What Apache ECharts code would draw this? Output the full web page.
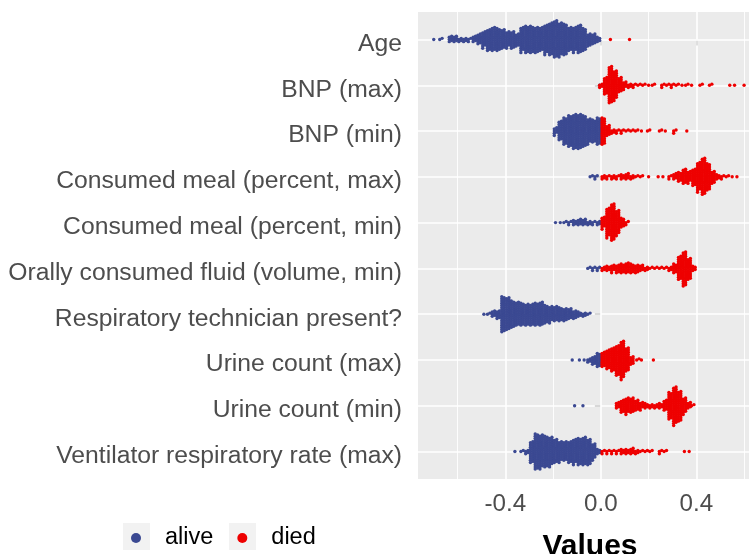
<!DOCTYPE html>
<html>
<head>
<meta charset="utf-8">
<script src="https://cdn.jsdelivr.net/npm/echarts@6/dist/echarts.min.js"></script>
<style>
  html, body { margin: 0; padding: 0; background: #fff; }
  #main { width: 749px; height: 554px; }
</style>
</head>
<body>
<div id="main"></div>
<script>
// features, top to bottom
var features = ['Age', 'BNP (max)', 'BNP (min)', 'Consumed meal (percent, max)',
  'Consumed meal (percent, min)', 'Orally consumed fluid (volume, min)',
  'Respiratory technician present?', 'Urine count (max)', 'Urine count (min)',
  'Ventilator respiratory rate (max)'];

var ageAlive = [[-0.70,1],[-0.67,2],[-0.63,6],[-0.61,6],[-0.59,4],[-0.57,4],[-0.55,3],[-0.53,6],[-0.51,10],[-0.49,15],[-0.47,20],[-0.45,22],[-0.43,21],[-0.41,18],[-0.39,15],[-0.37,16],[-0.35,12],[-0.33,23],[-0.31,25],[-0.29,25],[-0.27,24],[-0.25,22],[-0.23,27],[-0.21,30],[-0.19,34],[-0.17,31],[-0.15,29],[-0.13,22],[-0.11,23],[-0.09,26],[-0.07,21],[-0.05,12],[-0.03,10],[-0.01,5]];
var ageDied = [[0.04,1],[0.12,1]];

var bnpMaxAlive = [[-0.005,1]];
var bnpMaxDied = [[0.00,4],[0.02,16],[0.04,34],[0.06,27],[0.08,14],[0.10,7],[0.12,4],[0.14,3],[0.16,2],[0.18,2],[0.20,1],[0.22,2],[0.26,3],[0.28,2],[0.30,3],[0.32,2],[0.34,1],[0.36,2],[0.38,1],[0.42,2],[0.46,2],[0.54,1],[0.56,1],[0.60,1]];

var bnpMinAlive = [[-0.19,7],[-0.17,18],[-0.15,25],[-0.13,29],[-0.11,32],[-0.09,32],[-0.07,29],[-0.05,23],[-0.03,21],[-0.01,25]];
var bnpMinDied = [[0.01,25],[0.03,10],[0.05,4],[0.07,3],[0.09,3],[0.11,2],[0.13,2],[0.15,2],[0.17,1],[0.20,2],[0.25,2],[0.27,1],[0.31,3],[0.36,1]];

var mealMaxAlive = [[-0.04,2],[-0.02,3]];
var mealMaxDied = [[0.01,4],[0.03,3],[0.05,4],[0.07,3],[0.09,5],[0.11,6],[0.13,4],[0.15,2],[0.17,2],[0.20,1],[0.24,1],[0.26,1],[0.29,3],[0.31,6],[0.33,9],[0.35,14],[0.37,11],[0.39,16],[0.41,27],[0.43,34],[0.45,25],[0.47,12],[0.49,5],[0.51,3],[0.53,2],[0.55,1],[0.57,1]];

var mealMinAlive = [[-0.19,1],[-0.17,1],[-0.15,2],[-0.13,3],[-0.11,5],[-0.09,6],[-0.07,6],[-0.05,4],[-0.03,3],[-0.01,4]];
var mealMinDied = [[0.01,11],[0.03,27],[0.05,34],[0.07,23],[0.09,9],[0.11,3]];

var fluidAlive = [[-0.05,2],[-0.03,3],[-0.01,3]];
var fluidDied = [[0.01,4],[0.03,5],[0.05,7],[0.07,8],[0.09,9],[0.11,10],[0.13,9],[0.15,8],[0.17,6],[0.19,4],[0.21,2],[0.23,2],[0.25,2],[0.27,2],[0.29,4],[0.31,9],[0.33,22],[0.35,32],[0.37,20],[0.39,5]];

var respAlive = [[-0.49,1],[-0.47,2],[-0.45,6],[-0.43,8],[-0.41,33],[-0.39,30],[-0.37,25],[-0.35,22],[-0.33,21],[-0.31,20],[-0.29,20],[-0.27,21],[-0.25,22],[-0.23,17],[-0.21,15],[-0.19,14],[-0.17,13],[-0.15,12],[-0.13,10],[-0.11,8],[-0.09,5],[-0.07,4],[-0.05,2]];
var respDied = [];

var urineMaxAlive = [[-0.12,1],[-0.09,1],[-0.07,1],[-0.05,4],[-0.03,8],[-0.01,13]];
var urineMaxDied = [[0.01,14],[0.03,18],[0.05,22],[0.07,28],[0.09,35],[0.11,22],[0.13,8],[0.155,2],[0.17,1],[0.22,1]];

var urineMinAlive = [[-0.11,1],[-0.075,1]];
var urineMinDied = [[0.07,6],[0.09,12],[0.11,15],[0.13,14],[0.15,10],[0.17,7],[0.19,5],[0.21,4],[0.23,4],[0.25,5],[0.27,10],[0.29,25],[0.31,35],[0.33,28],[0.35,15],[0.37,6],[0.385,2]];

var ventAlive = [[-0.36,1],[-0.33,2],[-0.31,4],[-0.29,20],[-0.27,33],[-0.25,31],[-0.23,29],[-0.21,27],[-0.19,22],[-0.17,19],[-0.15,18],[-0.13,20],[-0.11,23],[-0.09,25],[-0.07,26],[-0.05,24],[-0.03,15],[-0.01,5]];
var ventDied = [[0.01,3],[0.03,3],[0.05,3],[0.07,3],[0.09,5],[0.11,5],[0.13,6],[0.15,4],[0.17,2],[0.19,2],[0.21,2],[0.25,3],[0.27,2],[0.35,1],[0.37,1]];

var aliveBins = [ageAlive, bnpMaxAlive, bnpMinAlive, mealMaxAlive, mealMinAlive, fluidAlive, respAlive, urineMaxAlive, urineMinAlive, ventAlive];
var diedBins = [ageDied, bnpMaxDied, bnpMinDied, mealMaxDied, mealMinDied, fluidDied, respDied, urineMaxDied, urineMinDied, ventDied];

var xTicks = [-0.4, 0, 0.4];
var xMinor = [-0.6, -0.2, 0.2, 0.6];
var yTicks = [0, 1, 2, 3, 4, 5, 6, 7, 8, 9];

// beeswarm layout: two sub-columns per bin, points stacked out from the row
var DX = 0.005, DY = 0.048;
function swarm(row, bins) {
  var pts = [];
  bins.forEach(function (b) {
    for (var i = 0; i < b[1]; i++) {
      var col = i % 2;
      var k = Math.floor(i / 2);
      var mag = col ? Math.floor(k / 2) + 0.5 : Math.ceil(k / 2);
      var sign = (k % 2) ? 1 : -1;
      var x = b[1] === 1 ? b[0] : b[0] + (col ? DX : -DX);
      pts.push([x, row + sign * mag * DY]);
    }
  });
  return pts;
}
var aliveData = [], diedData = [];
aliveBins.forEach(function (b, r) { aliveData = aliveData.concat(swarm(r, b)); });
diedBins.forEach(function (b, r) { diedData = diedData.concat(swarm(r, b)); });

var gridLines = [];
xTicks.forEach(function (v) { gridLines.push({ xAxis: v, lineStyle: { width: 1.6 } }); });
xMinor.forEach(function (v) { gridLines.push({ xAxis: v, lineStyle: { width: 0.9 } }); });
yTicks.forEach(function (v) { gridLines.push({ yAxis: v, lineStyle: { width: 1.6 } }); });

// text sits a little below its tick, as in the original
var yLabelPos = yTicks.map(function (v) { return v + 0.1; });

var chart = echarts.init(document.getElementById('main'));
var option = {
  animation: false,
  textStyle: { fontFamily: 'Liberation Sans, Arial, sans-serif' },
  grid: { left: 418, top: 12, width: 344, height: 467, outerBoundsMode: 'none', containLabel: false,
    show: true, backgroundColor: '#EBEBEB', borderWidth: 0 },
  legend: {
    data: ['alive', 'died'],
    left: 131, top: 525, padding: 0,
    icon: 'circle', itemWidth: 10, itemHeight: 10, itemGap: 24,
    textStyle: { fontSize: 23.5, color: '#000', padding: [0, 0, 0, 19], lineHeight: 26 }
  },
  graphic: [
    { type: 'rect', z: -1, shape: { x: 123, y: 523, width: 27, height: 27 }, style: { fill: '#F2F2F2' } },
    { type: 'rect', z: -1, shape: { x: 229, y: 523, width: 27, height: 27 }, style: { fill: '#F2F2F2' } }
  ],
  xAxis: {
    type: 'value', min: -0.766, max: 0.675,
    name: 'Values', nameLocation: 'middle', nameGap: 53, nameMoveOverlap: false,
    nameTextStyle: { fontSize: 30, fontWeight: 'bold', color: '#000' },
    axisLine: { show: false },
    splitLine: { show: false },
    axisTick: { show: true, customValues: xTicks, length: 6, lineStyle: { color: '#333', width: 1.5 } },
    axisLabel: { customValues: xTicks, fontSize: 24.2, color: '#4D4D4D', margin: 13,
      formatter: function (v) { return v.toFixed(1); } }
  },
  yAxis: {
    type: 'value', inverse: true, min: -0.6, max: 9.6,
    axisLine: { show: false },
    splitLine: { show: false },
    axisTick: { show: true, customValues: yTicks, length: 6, lineStyle: { color: '#333', width: 1.5 } },
    axisLabel: { customValues: yLabelPos, fontSize: 24.7, color: '#4D4D4D', margin: 16,
      formatter: function (v) { return features[Math.round(v)]; } }
  },
  series: [
    {
      name: 'grid', type: 'scatter', z: 1, data: [], silent: true,
      markLine: { z: 1, silent: true, symbol: ['none', 'none'], label: { show: false },
        lineStyle: { color: '#FFFFFF', type: 'solid' }, data: gridLines }
    },
    { name: 'alive', type: 'scatter', z: 2, symbolSize: 3.4, itemStyle: { color: '#3B4992', opacity: 1 }, data: aliveData },
    { name: 'died', type: 'scatter', z: 3, symbolSize: 3.4, itemStyle: { color: '#EE0000', opacity: 1 }, data: diedData }
  ]
};
chart.setOption(option);
</script>
</body>
</html>
